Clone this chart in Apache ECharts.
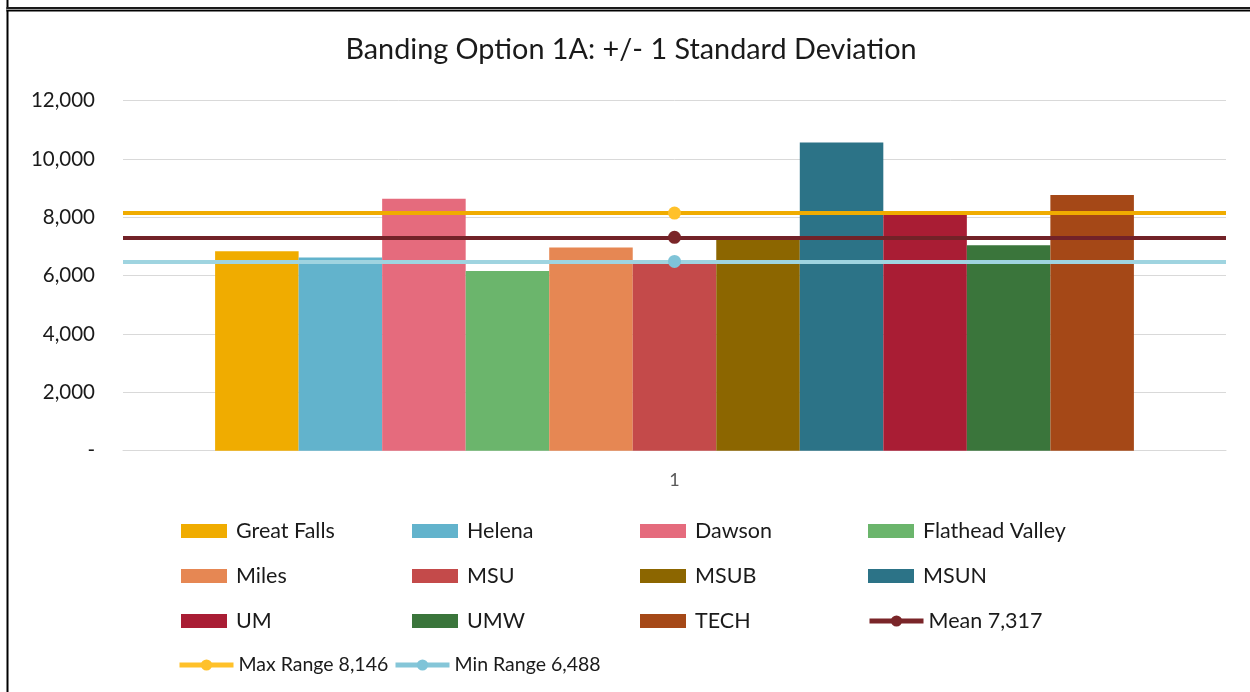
<!DOCTYPE html>
<html>
<head>
<meta charset="utf-8">
<script src="https://cdn.jsdelivr.net/npm/echarts@6/dist/echarts.min.js"></script>
<style>
  html, body { margin: 0; padding: 0; background: #ffffff; }
  #chart { width: 1250px; height: 692px; }
</style>
</head>
<body>
<div id="chart"></div>
<script>
// ---- data ----
const categories = ['1'];
const barNames = ['Great Falls', 'Helena', 'Dawson', 'Flathead Valley', 'Miles', 'MSU', 'MSUB', 'MSUN', 'UM', 'UMW', 'TECH'];
const barValues = [6840, 6620, 8640, 6160, 6970, 6430, 7270, 10570, 8120, 7040, 8770];
const barColors = ['#F0AC00', '#62B3CC', '#E56B7D', '#6BB56C', '#E68753', '#C44A4A', '#8C6600', '#2C7387', '#A91D34', '#3A753B', '#A54817'];
const lineNames = ['Mean 7,317', 'Max Range 8,146', 'Min Range 6,488'];
const lineValues = [7317, 8146, 6488];
const lineColors = ['#722228', '#F0AC00', '#9FD4E0'];
const lineMarkerColors = ['#7A2529', '#FFC12A', '#7FC4D8'];
const legendLineColors = ['#7A2529', '#FFC12A', '#85C6D8'];
const yTicks = [0, 2000, 4000, 6000, 8000, 10000, 12000];

const FONT = 'Lato';
const chart = echarts.init(document.getElementById('chart'), null, { renderer: 'canvas' });

const series = [];
barNames.forEach((n, i) => {
  series.push({
    name: n, type: 'bar', data: [barValues[i]],
    itemStyle: { color: barColors[i] },
    barGap: '0%', barCategoryGap: '16.7%',
    z: 2
  });
});
lineNames.forEach((n, i) => {
  series.push({
    name: n, type: 'line', data: [lineValues[i]],
    symbol: 'circle', symbolSize: 13, showSymbol: true,
    itemStyle: { color: lineMarkerColors[i] },
    lineStyle: { color: lineColors[i], width: 4 },
    z: 5,
    markLine: {
      silent: true, symbol: ['none', 'none'], label: { show: false },
      lineStyle: { color: lineColors[i], width: 4, type: 'solid' },
      data: [{ yAxis: lineValues[i] }],
      z: 4
    }
  });
});

// legend placement (grid-like, as in the reference)
const colX = [181, 412, 640, 868];
const rowY = [531, 576, 621, 665];
const legendItems = [
  ['Great Falls', 0, 0], ['Helena', 1, 0], ['Dawson', 2, 0], ['Flathead Valley', 3, 0],
  ['Miles', 0, 1], ['MSU', 1, 1], ['MSUB', 2, 1], ['MSUN', 3, 1],
  ['UM', 0, 2], ['UMW', 1, 2], ['TECH', 2, 2], ['Mean 7,317', 3, 2],
  ['Max Range 8,146', 0, 3], ['Min Range 6,488', 1, 3]
];
const legends = legendItems.map(([name, c, r]) => {
  const li = lineNames.indexOf(name);
  const isLine = li >= 0;
  let left = colX[c];
  if (r === 3 && c === 0) left = 177;
  if (r === 3 && c === 1) left = 393;
  if (isLine && r === 2) left = 867;
  return {
    data: [isLine ? { name: name, itemStyle: { color: lineMarkerColors[li] }, lineStyle: { color: legendLineColors[li], width: 5 } } : { name: name, icon: 'rect' }],
    left: left, top: rowY[r] - 11,
    padding: 0,
    itemWidth: isLine ? 54 : 46, itemHeight: 14,
    itemGap: 0,
    selectedMode: false,
    textStyle: { fontFamily: FONT, fontSize: r === 3 ? 19.5 : 21.5, color: '#1a1a1a', lineHeight: 22, padding: [0, 0, 0, isLine ? 0 : 4] }
  };
});

chart.setOption({
  animation: false,
  backgroundColor: '#ffffff',
  title: {
    text: 'Banding Option 1A: +/- 1 Standard Deviation',
    left: 626, top: 30, textAlign: 'center',
    textStyle: { fontFamily: FONT, fontSize: 28.8, fontWeight: 'normal', color: '#1a1a1a' }
  },
  grid: { left: 123, right: 24, top: 100.7, bottom: 241.3, containLabel: false },
  xAxis: {
    type: 'category', data: categories,
    axisLine: { show: true, lineStyle: { color: '#D9D9D9', width: 1 } },
    axisTick: { show: false },
    axisLabel: { fontFamily: FONT, fontSize: 18, color: '#595959', margin: 20 }
  },
  yAxis: {
    type: 'value', min: yTicks[0], max: yTicks[yTicks.length - 1], interval: yTicks[1] - yTicks[0],
    axisLine: { show: false }, axisTick: { show: false },
    splitLine: { lineStyle: { color: '#D9D9D9', width: 1 } },
    axisLabel: {
      fontFamily: FONT, fontSize: 20.5, color: '#1a1a1a', margin: 28,
      formatter: v => v === 0 ? '-' : v.toLocaleString('en-US')
    }
  },
  legend: legends,
  graphic: [
    { type: 'rect', shape: { x: 6.5, y: 0, width: 2, height: 692 }, style: { fill: '#000000' }, silent: true },
    { type: 'rect', shape: { x: 6.5, y: 7, width: 1250, height: 2 }, style: { fill: '#1a1a1a' }, silent: true },
    { type: 'rect', shape: { x: 6.5, y: 9, width: 1250, height: 1 }, style: { fill: '#9a9a9a' }, silent: true },
    { type: 'rect', shape: { x: 6.5, y: 10, width: 1250, height: 1.5 }, style: { fill: '#000000' }, silent: true }
  ],
  series: series
});
</script>
</body>
</html>
